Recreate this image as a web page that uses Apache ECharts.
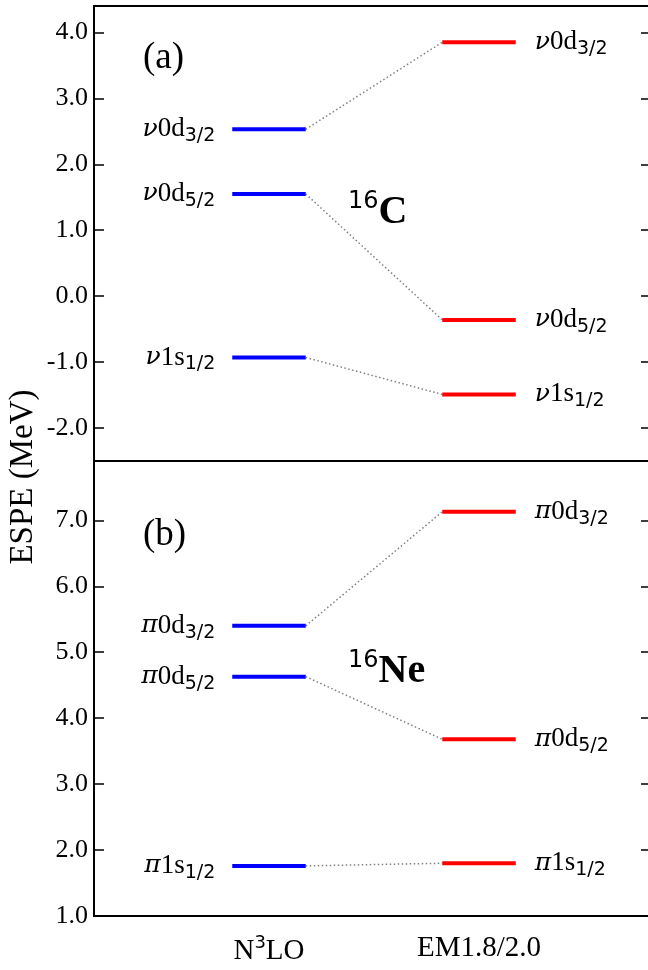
<!DOCTYPE html>
<html>
<head>
<meta charset="utf-8">
<script src="https://cdn.jsdelivr.net/npm/echarts@6/dist/echarts.min.js"></script>
<style>
  html, body { margin: 0; padding: 0; background: #fff; }
  #chart { width: 648px; height: 970px; }
</style>
</head>
<body>
<div id="chart"></div>
<script>
// effective single-particle energies (MeV), orbits in order d3/2, d5/2, s1/2
const methods = ['N3LO', 'EM1.8/2.0'];
const orbitShells = ['0d', '0d', '1s'];
const orbitSubs = ['3/2', '5/2', '1/2'];
const c16N3LO = [2.53, 1.55, -0.93];
const c16EM = [3.85, -0.36, -1.49];
const ne16N3LO = [5.40, 4.63, 1.76];
const ne16EM = [7.13, 3.68, 1.80];
const c16Ticks = [-2, -1, 0, 1, 2, 3, 4];
const ne16Ticks = [1, 2, 3, 4, 5, 6, 7];

const SERIF = 'Liberation Serif';
const HALF = 0.175; // half width of a level bar, in x units

const levelRich = {
  g: { fontFamily: 'DejaVu Serif', fontStyle: 'italic', fontSize: 25, color: '#000' },
  m: { fontFamily: SERIF, fontSize: 27, color: '#000' },
  s: { fontFamily: 'DejaVu Sans', fontSize: 19, color: '#000', padding: [14, 0, 0, 0] }
};

function levels(particle) {
  return function (params, api) {
    const i = params.dataIndex;
    const yL = api.value(1);
    const yR = api.value(2);
    const a1 = api.coord([1 - HALF, yL]);
    const b1 = api.coord([1 + HALF, yL]);
    const a2 = api.coord([2 - HALF, yR]);
    const b2 = api.coord([2 + HALF, yR]);
    const txt = '{g|' + particle + '}{m|' + orbitShells[i] + '}{s|' + orbitSubs[i] + '}';
    return {
      type: 'group',
      children: [
        { type: 'line', shape: { x1: b1[0], y1: b1[1], x2: a2[0], y2: a2[1] },
          style: { stroke: '#808080', lineWidth: 1.5, lineDash: [1.5, 2.5] } },
        { type: 'line', shape: { x1: a1[0], y1: a1[1], x2: b1[0], y2: b1[1] },
          style: { stroke: '#0000ff', lineWidth: 4 } },
        { type: 'line', shape: { x1: a2[0], y1: a2[1], x2: b2[0], y2: b2[1] },
          style: { stroke: '#ff0000', lineWidth: 4 } },
        { type: 'text', x: a1[0] - 17, y: a1[1],
          style: { text: txt, rich: levelRich, align: 'right', verticalAlign: 'middle' } },
        { type: 'text', x: b2[0] + 19, y: b2[1],
          style: { text: txt, rich: levelRich, align: 'left', verticalAlign: 'middle' } }
      ]
    };
  };
}

function yAxisPair(grid, min, max, ticks) {
  const tick = { show: true, inside: true, length: 10, customValues: ticks,
                 lineStyle: { color: '#000', width: 1.5 } };
  return [
    { type: 'value', gridIndex: grid, position: 'left', min: min, max: max,
      axisLine: { show: true, lineStyle: { color: '#000', width: 2 } },
      axisTick: tick, splitLine: { show: false },
      axisLabel: { customValues: ticks, formatter: v => v.toFixed(1), margin: 6,
                   fontFamily: SERIF, fontSize: 26, color: '#000' } },
    { type: 'value', gridIndex: grid, position: 'right', min: min, max: max,
      axisLine: { show: true, lineStyle: { color: '#000', width: 2 } },
      axisTick: tick, splitLine: { show: false }, axisLabel: { show: false } }
  ];
}

const xMin = 0.1667, xMax = 2.819;

const chart = echarts.init(document.getElementById('chart'));
chart.setOption({
  animation: false,
  backgroundColor: '#fff',
  grid: [
    { left: 94, width: 557, top: 6, height: 455, outerBoundsMode: 'none',
      show: true, borderColor: '#000', borderWidth: 2 },
    { left: 94, width: 557, top: 461, height: 455, outerBoundsMode: 'none',
      show: true, borderColor: '#000', borderWidth: 2 }
  ],
  xAxis: [
    { type: 'value', gridIndex: 0, min: xMin, max: xMax, show: false },
    { type: 'value', gridIndex: 1, min: xMin, max: xMax, position: 'bottom',
      axisLine: { show: false }, axisTick: { show: false }, splitLine: { show: false },
      axisLabel: {
        customValues: [1, 2], margin: 18,
        formatter: v => v === 1 ? '{a|N}{p|3}{a|LO}' : '{a|' + methods[1] + '}',
        rich: {
          a: { fontFamily: SERIF, fontSize: 29, color: '#000' },
          p: { fontFamily: 'DejaVu Sans', fontSize: 18, color: '#000', padding: [0, 0, 16, 0] }
        }
      } }
  ],
  yAxis: yAxisPair(0, -2.5, 4.4, c16Ticks).concat(yAxisPair(1, 1.0, 7.9, ne16Ticks)),
  series: [
    { type: 'custom', xAxisIndex: 0, yAxisIndex: 0, renderItem: levels('ν'),
      encode: { x: 0, y: [1, 2] },
      data: c16N3LO.map((v, i) => [i, v, c16EM[i]]) },
    { type: 'custom', xAxisIndex: 1, yAxisIndex: 2, renderItem: levels('π'),
      encode: { x: 0, y: [1, 2] },
      data: ne16N3LO.map((v, i) => [i, v, ne16EM[i]]) }
  ],
  graphic: [
    { type: 'text', x: 23, y: 477, rotation: Math.PI / 2,
      style: { text: 'ESPE (MeV)', fontFamily: SERIF, fontSize: 33, fill: '#000',
               align: 'center', verticalAlign: 'middle' } },
    { type: 'text', x: 143, y: 58,
      style: { text: '(a)', fontFamily: SERIF, fontSize: 37, fill: '#000', verticalAlign: 'middle' } },
    { type: 'text', x: 143, y: 535,
      style: { text: '(b)', fontFamily: SERIF, fontSize: 37, fill: '#000', verticalAlign: 'middle' } },
    { type: 'text', x: 348, y: 213,
      style: { text: '{s|16}{b|C}', verticalAlign: 'middle',
               rich: { s: { fontFamily: 'DejaVu Sans', fontSize: 24, color: '#000', padding: [0, 0, 22, 0] },
                       b: { fontFamily: SERIF, fontWeight: 'bold', fontSize: 40, color: '#000' } } } },
    { type: 'text', x: 348, y: 672,
      style: { text: '{s|16}{b|Ne}', verticalAlign: 'middle',
               rich: { s: { fontFamily: 'DejaVu Sans', fontSize: 24, color: '#000', padding: [0, 0, 22, 0] },
                       b: { fontFamily: SERIF, fontWeight: 'bold', fontSize: 40, color: '#000' } } } }
  ]
});
</script>
</body>
</html>
